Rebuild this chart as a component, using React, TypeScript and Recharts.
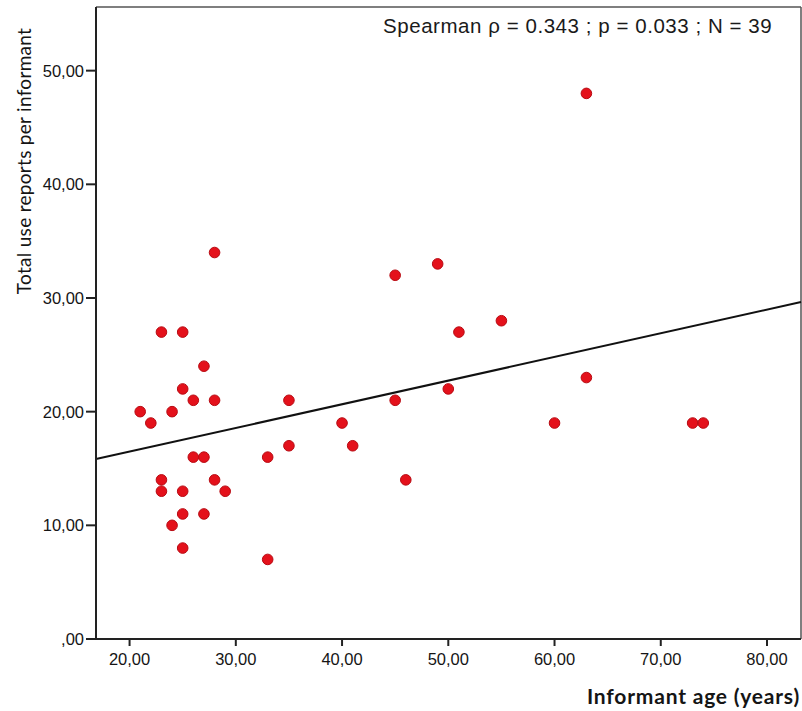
import {
  ScatterChart,
  Scatter,
  XAxis,
  YAxis,
  ReferenceLine,
} from "recharts";

// informant age (years)
const ages = [
  21, 22, 23, 23, 23, 24, 24, 25, 25, 25, 25, 25, 26, 26, 27, 27, 27, 28, 28, 28,
  29, 33, 33, 35, 35, 40, 41, 45, 45, 46, 49, 50, 51, 55, 60, 63, 63, 73, 74,
];
// total use reports per informant
const reports = [
  20, 19, 27, 14, 13, 20, 10, 27, 22, 13, 11, 8, 21, 16, 24, 16, 11, 34, 21, 14,
  13, 16, 7, 21, 17, 19, 17, 32, 21, 14, 33, 22, 27, 28, 19, 48, 23, 19, 19,
];

const xTicks = [20, 30, 40, 50, 60, 70, 80];
const yTicks = [0, 10, 20, 30, 40, 50];
const xDomain: [number, number] = [16.84, 83.2];
const yDomain: [number, number] = [0, 55.6];

// fit line end points
const fitStart = { x: 16.84, y: 15.83 };
const fitEnd = { x: 83.2, y: 29.64 };

const statsText = "Spearman ρ = 0.343 ; p = 0.033 ; N = 39";

const points = ages.map((age, i) => ({ age, reports: reports[i] }));

const fmt = (v: number) => (v === 0 ? ",00" : v.toFixed(2).replace(".", ","));

const Dot = (props: any) => {
  const { cx, cy } = props;
  if (cx == null || cy == null) return null;
  return <circle cx={cx} cy={cy} r={5.3} fill="#e4111b" stroke="#b80a12" strokeWidth={1} />;
};

const tickStyle = {
  fill: "#151515",
  fontSize: 16.5,
  fontFamily: "'Liberation Sans', Arial, sans-serif",
};

export default function App() {
  return (
    <div
      style={{
        position: "absolute",
        left: 0,
        top: 0,
        width: 802,
        height: 711,
        background: "#fff",
        fontFamily: "'Liberation Sans', Arial, sans-serif",
      }}
    >
      <ScatterChart
        width={802}
        height={711}
        margin={{ top: 7, right: 1, bottom: 0, left: 0 }}
      >
        <XAxis
          type="number"
          dataKey="age"
          domain={xDomain}
          ticks={xTicks}
          allowDataOverflow
          tickFormatter={fmt}
          tickSize={7}
          tickMargin={7}
          height={72}
          stroke="#222"
          strokeWidth={2}
          tick={tickStyle}
        />
        <YAxis
          type="number"
          dataKey="reports"
          domain={yDomain}
          ticks={yTicks}
          allowDataOverflow
          tickFormatter={fmt}
          tickSize={10}
          tickMargin={2}
          width={96}
          stroke="#222"
          strokeWidth={2}
          tick={tickStyle}
        />
        <ReferenceLine y={yDomain[1]} stroke="#555" strokeWidth={1.5} />
        <ReferenceLine x={xDomain[1]} stroke="#555" strokeWidth={1.5} />
        <ReferenceLine
          segment={[fitStart, fitEnd]}
          stroke="#111"
          strokeWidth={2}
          ifOverflow="extendDomain"
        />
        <Scatter
          data={points}
          shape={<Dot />}
          isAnimationActive={false}
        />
      </ScatterChart>

      <div
        style={{
          position: "absolute",
          left: 383,
          top: 14,
          fontSize: 20.5,
          lineHeight: "24px",
          color: "#1a1a1a",
          whiteSpace: "nowrap",
          letterSpacing: 0.55,
        }}
      >
        {statsText}
      </div>

      <div
        style={{
          position: "absolute",
          left: 23,
          top: 161,
          transform: "translate(-50%, -50%) rotate(-90deg)",
          fontFamily: "Lato, sans-serif",
          fontSize: 19,
          letterSpacing: 0.3,
          color: "#151515",
          whiteSpace: "nowrap",
        }}
      >
        Total use reports per informant
      </div>

      <div
        style={{
          position: "absolute",
          right: 2,
          top: 683,
          fontFamily: "Lato, sans-serif",
          fontWeight: 700,
          fontSize: 21,
          letterSpacing: 0.8,
          color: "#151515",
          whiteSpace: "nowrap",
        }}
      >
        Informant age (years)
      </div>
    </div>
  );
}
